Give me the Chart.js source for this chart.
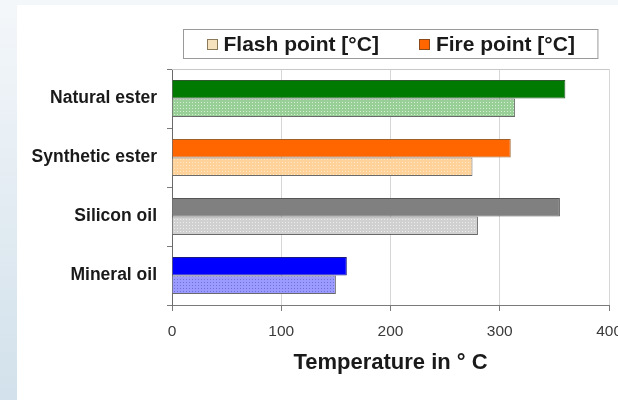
<!DOCTYPE html>
<html>
<head>
<meta charset="utf-8">
<script src="https://cdn.jsdelivr.net/npm/chart.js@4.4.1/dist/chart.umd.min.js"></script>
<style>
    html, body {
        margin: 0;
        padding: 0;
        width: 618px;
        height: 400px;
        overflow: hidden;
        background: linear-gradient(#f4f7fa, #d2e1eb);
    }
    #panel {
        position: absolute;
        left: 17px;
        top: 5px;
        width: 601px;
        height: 395px;
        background: #fff;
        overflow: hidden;
    }
    #wrap {
        position: absolute;
        left: 0;
        top: 0;
        width: 616px;
        height: 395px;
    }
</style>
</head>
<body>
<div id="panel"><div id="wrap"><canvas id="oils"></canvas></div></div>
<script>
// ── Data ─────────────────────────────────────────────────────
const categories = ['Natural ester', 'Synthetic ester', 'Silicon oil', 'Mineral oil'];
const firePoint  = [360, 310, 355, 160];
const flashPoint = [314, 275, 280, 150];
const xTicks     = [0, 100, 200, 300, 400];

// per-category colours (solid fire bar, light dotted flash bar)
const fireColors   = ['#007a00', '#ff6600', '#808080', '#0000ff'];
const fireBorders  = ['#2f5a2f', '#a0602a', '#555555', '#1a1a80'];
const flashColors  = ['#97cf97', '#ffd29a', '#d0d0d0', '#9b9bff'];
const flashDots    = ['#d6eed6', '#ffe6c6', '#ececec', '#7070d8'];

const FONT = "'Liberation Sans', Arial, sans-serif";

// ── Dotted fill for the flash point bars ─────────────────────
function dotted(base, dot) {
    const c = document.createElement('canvas');
    c.width = 3; c.height = 3;
    const g = c.getContext('2d');
    g.fillStyle = base;
    g.fillRect(0, 0, 3, 3);
    g.fillStyle = dot;
    g.fillRect(1, 1, 1, 1);
    return g.createPattern(c, 'repeat');
}

// ── Legend in a framed box above the plot + top frame line ──
const boxedLegend = {
    id: 'boxedLegend',
    afterDraw(chart) {
        const { ctx, chartArea: a } = chart;
        ctx.save();
        // top border of plot
        ctx.strokeStyle = '#c8c8c8';
        ctx.lineWidth = 1;
        ctx.beginPath();
        ctx.moveTo(a.left, a.top + 0.5);
        ctx.lineTo(a.right, a.top + 0.5);
        ctx.stroke();

        const items = [
            { text: 'Flash point [°C]', fill: '#f6e3bd', stroke: '#8a7a5a' },
            { text: 'Fire point [°C]',  fill: '#ff6600', stroke: '#8a4a1a' }
        ];
        ctx.font = `bold 21px ${FONT}`;
        const sw = 10, gap = 7, itemGap = 40, pad = 23;
        const widths = items.map(it => sw + gap + ctx.measureText(it.text).width);
        const total = widths[0] + itemGap + widths[1];
        const boxW = total + pad * 2, boxH = 29;
        const cx = (a.left + a.right) / 2;
        const bx = Math.round(cx - boxW / 2) + 0.5, by = 24.5;
        ctx.fillStyle = '#fff';
        ctx.fillRect(bx, by, boxW, boxH);
        ctx.strokeStyle = '#9a9a9a';
        ctx.strokeRect(bx, by, boxW, boxH);

        let x = bx + pad;
        const midY = by + boxH / 2;
        items.forEach((it, i) => {
            ctx.fillStyle = it.fill;
            ctx.fillRect(Math.round(x) + 0.5, Math.round(midY - 5) + 0.5, sw, sw);
            ctx.strokeStyle = it.stroke;
            ctx.strokeRect(Math.round(x) + 0.5, Math.round(midY - 5) + 0.5, sw, sw);
            ctx.fillStyle = '#1a1a1a';
            ctx.textBaseline = 'middle';
            ctx.fillText(it.text, x + sw + gap, midY + 1);
            x += widths[i] + itemGap;
        });
        ctx.restore();
    }
};

new Chart(document.getElementById('oils'), {
    type: 'bar',
    data: {
        labels: categories,
        datasets: [
            {
                label: 'Fire point [°C]',
                data: firePoint,
                backgroundColor: fireColors,
                borderColor: fireBorders,
                borderWidth: 1,
                categoryPercentage: 0.63,
                barPercentage: 1
            },
            {
                label: 'Flash point [°C]',
                data: flashPoint,
                backgroundColor: flashColors.map((c, i) => dotted(c, flashDots[i])),
                borderColor: '#6a6a6a',
                borderWidth: 1,
                categoryPercentage: 0.63,
                barPercentage: 1
            }
        ]
    },
    options: {
        indexAxis: 'y',
        responsive: true,
        maintainAspectRatio: false,
        animation: false,
        layout: { padding: { top: 64, left: 0, right: 0, bottom: 0 } },
        plugins: {
            legend: { display: false },
            tooltip: { enabled: false }
        },
        scales: {
            x: {
                min: 0,
                max: 400,
                afterBuildTicks: s => { s.ticks = xTicks.map(v => ({ value: v })); },
                afterFit: s => { s.height = 95; },
                grid: { color: '#d6d6d6', tickColor: '#7a7a7a', tickLength: 6 },
                border: { color: '#7a7a7a' },
                ticks: {
                    padding: 11,
                    color: '#3a3a3a',
                    font: { family: FONT, size: 15.5 }
                },
                title: {
                    display: true,
                    text: 'Temperature in ° C',
                    color: '#1a1a1a',
                    font: { family: FONT, size: 22, weight: 'bold' },
                    padding: { top: 0, bottom: 24 }
                }
            },
            y: {
                afterFit: s => { s.width = 155; },
                grid: { drawOnChartArea: false, offset: true, tickColor: '#7a7a7a', tickLength: 5 },
                border: { color: '#6a6a6a' },
                ticks: {
                    padding: 10,
                    color: '#1a1a1a',
                    font: { family: FONT, size: 17.5, weight: 'bold' }
                }
            }
        }
    },
    plugins: [boxedLegend]
});
</script>
</body>
</html>
